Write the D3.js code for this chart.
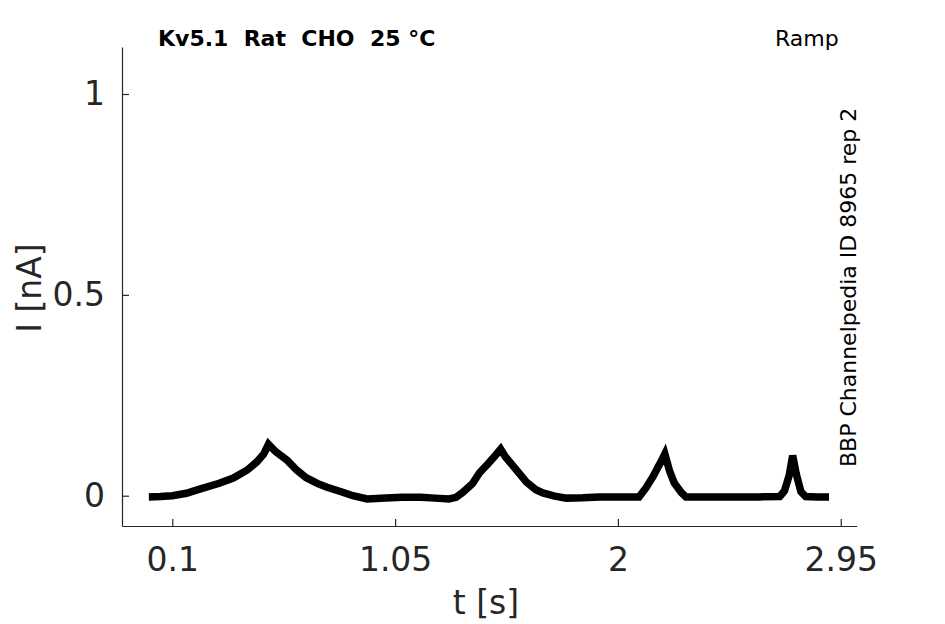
<!DOCTYPE html>
<html>
<head>
<meta charset="utf-8">
<script src="https://cdn.jsdelivr.net/npm/d3@7"></script>
<style>
  body { margin: 0; background: white; }
  text { font-family: "DejaVu Sans", sans-serif; fill: #262626; }
</style>
</head>
<body>
<script>
// recording (s, nA)
const times = [0.00, 0.05, 0.10, 0.16, 0.22, 0.30, 0.36, 0.42, 0.46, 0.49, 0.51, 0.54, 0.59, 0.63, 0.67, 0.72, 0.76, 0.82, 0.87, 0.93, 1.01, 1.08, 1.16, 1.22, 1.28, 1.31, 1.34, 1.38, 1.41, 1.45, 1.48, 1.50, 1.52, 1.55, 1.58, 1.61, 1.65, 1.68, 1.73, 1.78, 1.85, 1.92, 2.00, 2.09, 2.12, 2.15, 2.17, 2.19, 2.20, 2.22, 2.24, 2.27, 2.29, 2.40, 2.50, 2.60, 2.69, 2.71, 2.73, 2.745, 2.76, 2.78, 2.80, 2.85, 2.90];
const current = [-0.003, -0.002, 0.000, 0.006, 0.017, 0.031, 0.044, 0.064, 0.084, 0.104, 0.128, 0.110, 0.088, 0.064, 0.045, 0.030, 0.021, 0.010, 0.000, -0.008, -0.006, -0.004, -0.004, -0.006, -0.008, -0.004, 0.009, 0.030, 0.057, 0.082, 0.102, 0.116, 0.097, 0.076, 0.055, 0.034, 0.015, 0.007, -0.001, -0.006, -0.005, -0.003, -0.003, -0.003, 0.020, 0.048, 0.070, 0.092, 0.104, 0.062, 0.032, 0.008, -0.003, -0.003, -0.003, -0.003, -0.002, 0.012, 0.050, 0.100, 0.055, 0.010, -0.002, -0.003, -0.003];
const xTicks = [0.1, 1.05, 2, 2.95];
const yTicks = [0, 0.5, 1];
const title = 'Kv5.1  Rat  CHO  25 °C';
const protocol = 'Ramp';
const source = 'BBP Channelpedia ID 8965 rep 2';

const width = 945, height = 624;
const plotLeft = 122, plotRight = 856.7, plotTop = 47, plotBottom = 526;

const svg = d3.select('body').append('svg')
  .attr('width', width)
  .attr('height', height);

const x = d3.scaleLinear().domain([-0.1145, 3.018]).range([plotLeft, plotRight]);
const y = d3.scaleLinear().domain([-0.0754, 1.117]).range([plotBottom, plotTop]);

const data = times.map((t, i) => ({ t: t, v: current[i] }));

svg.append('path')
  .datum(data)
  .attr('fill', 'none')
  .attr('stroke', 'black')
  .attr('stroke-width', 7.5)
  .attr('stroke-linejoin', 'miter')
  .attr('stroke-miterlimit', 3)
  .attr('stroke-linecap', 'butt')
  .attr('d', d3.line().x(d => x(d.t)).y(d => y(d.v)));

const xAxis = d3.axisBottom(x).tickValues(xTicks).tickFormat(d => String(d))
  .tickSizeInner(-7).tickSizeOuter(0).tickPadding(22);
const yAxis = d3.axisLeft(y).tickValues(yTicks).tickFormat(d => String(d))
  .tickSizeInner(-7).tickSizeOuter(0).tickPadding(17);

const gx = svg.append('g').attr('transform', `translate(0,${plotBottom})`).call(xAxis);
const gy = svg.append('g').attr('transform', `translate(${plotLeft},0)`).call(yAxis);

[gx, gy].forEach(g => {
  g.select('.domain').attr('stroke', '#262626').attr('stroke-width', 1.2);
  g.selectAll('.tick line').attr('stroke', '#262626').attr('stroke-width', 1.2);
  g.selectAll('.tick text').attr('font-size', 33).attr('font-family', 'DejaVu Sans').attr('fill', '#262626');
});

svg.append('text')
  .attr('x', 486).attr('y', 614)
  .attr('text-anchor', 'middle')
  .attr('font-size', 33)
  .text('t [s]');

svg.append('text')
  .attr('transform', 'translate(41,288) rotate(-90)')
  .attr('text-anchor', 'middle')
  .attr('font-size', 33)
  .text('I [nA]');

svg.append('text')
  .attr('x', 158).attr('y', 46)
  .attr('font-size', 22)
  .attr('font-weight', 'bold')
  .style('white-space', 'pre')
  .style('fill', 'black')
  .text(title);

svg.append('text')
  .attr('x', 775).attr('y', 46)
  .attr('font-size', 22)
  .style('fill', 'black')
  .text(protocol);

svg.append('text')
  .attr('transform', 'translate(856,467) rotate(-90)')
  .attr('font-size', 22)
  .style('fill', 'black')
  .text(source);
</script>
</body>
</html>
